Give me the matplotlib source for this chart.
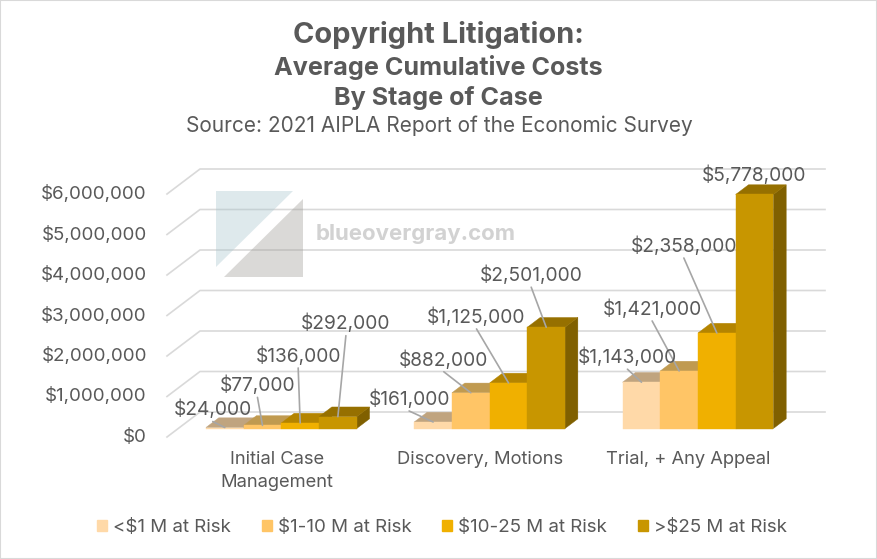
import matplotlib
matplotlib.use("Agg")
import matplotlib.pyplot as plt
from matplotlib.patches import Patch, Polygon
from matplotlib.transforms import ScaledTranslation

# --- DATA ---
categories = ["Initial Case\nManagement", "Discovery, Motions", "Trial, + Any Appeal"]
series_names = ["<$1 M at Risk", "$1-10 M at Risk", "$10-25 M at Risk", ">$25 M at Risk"]
under_1m = [24000, 161000, 1143000]
from_1_to_10m = [77000, 882000, 1421000]
from_10_to_25m = [136000, 1125000, 2358000]
over_25m = [292000, 2501000, 5778000]
y_ticks = [0, 1000000, 2000000, 3000000, 4000000, 5000000, 6000000]

# --- STYLE ---
W, H, DPI = 877, 559, 100
FONT = "Inter"
TEXT = "#595959"
GRID = "#d9d9d9"
LEADER = "#a6a6a6"
front_colors = ["#ffd9a8", "#ffc566", "#f0b000", "#c89600"]
top_colors = ["#c0a47f", "#c09a50", "#b48400", "#967000"]
side_colors = ["#a38b6b", "#a37e41", "#9a7100", "#806000"]

# axes area is the front edge of the floor, in pixels
LEFT, RIGHT, BOTTOM, TOP = 167, 792, 437, 194
PX_X = (RIGHT - LEFT) / 3
PX_Y = (BOTTOM - TOP) / 6000000
DEPTH_X = 33 / PX_X
DEPTH_Y = 25 / PX_Y
BAR_W = 37.7 / PX_X
BAR_START = 0.133
BAR_FRONT = 0.34   # share of floor depth in front of the bars
BAR_DEPTH = 0.388
LABEL_DROP = 3     # text sits a little low in its box
LEADER_GAP = 15

# label centre, pixels from the top-front-middle of each bar
label_offsets = [
    [(-12, 21), (-5, 43), (-2, 70), (8, 96)],
    [(-24, 26), (-27, 36), (-32, 69), (-15, 55)],
    [(-14, 28), (-27, 65), (-33, 90), (0, 22)],
]
no_leader = {(2, 3)}


def px_fig(x, y):
    return x / W, 1 - y / H


def money(v):
    return f"${v:,.0f}"


def draw_bar(ax, x, value, i):
    x0 = x + BAR_FRONT * DEPTH_X
    y0 = BAR_FRONT * DEPTH_Y
    dx = BAR_DEPTH * DEPTH_X
    dy = BAR_DEPTH * DEPTH_Y
    top = y0 + value
    side = Polygon([(x0 + BAR_W, y0), (x0 + BAR_W + dx, y0 + dy), (x0 + BAR_W + dx, top + dy), (x0 + BAR_W, top)],
                   fc=side_colors[i], ec=side_colors[i], lw=0.3, zorder=3, clip_on=False)
    lid = Polygon([(x0, top), (x0 + dx, top + dy), (x0 + BAR_W + dx, top + dy), (x0 + BAR_W, top)],
                  fc=top_colors[i], ec=top_colors[i], lw=0.3, zorder=3, clip_on=False)
    front = Polygon([(x0, y0), (x0, top), (x0 + BAR_W, top), (x0 + BAR_W, y0)],
                    fc=front_colors[i], ec=front_colors[i], lw=0.3, zorder=3, clip_on=False)
    for p in (side, lid, front):
        ax.add_patch(p)
    return x0 + BAR_W / 2, top


plt.rcParams["font.family"] = [FONT, "DejaVu Sans"]
fig = plt.figure(figsize=(W / DPI, H / DPI), dpi=DPI)
ax = fig.add_axes([LEFT / W, 1 - BOTTOM / H, (RIGHT - LEFT) / W, (BOTTOM - TOP) / H])
ax.set_xlim(0, 3)
ax.set_ylim(0, 6000000)
for s in ax.spines.values():
    s.set_visible(False)
ax.patch.set_visible(False)

# grid: back wall and left wall
for v in y_ticks:
    ax.plot([0, DEPTH_X, 3 + DEPTH_X], [v, v + DEPTH_Y, v + DEPTH_Y], color=GRID, lw=1.2, zorder=1, clip_on=False)

# watermark
fig.add_artist(Polygon([px_fig(216, 191), px_fig(293, 191), px_fig(216, 267)], transform=fig.transFigure,
                       fc="#a6c4cd", alpha=0.36, lw=0, zorder=2))
fig.add_artist(Polygon([px_fig(303, 199), px_fig(303, 277), px_fig(224, 277)], transform=fig.transFigure,
                       fc="#9a9792", alpha=0.36, lw=0, zorder=2))
fig.text(316 / W, 1 - 234 / H, "blueovergray.com", fontsize=16, fontweight="bold", color="#d2d2d2",
         va="center", ha="left", zorder=2)

# bars, left to right so the next front hides the previous side
series = [under_1m, from_1_to_10m, from_10_to_25m, over_25m]
for c in range(len(categories)):
    for i, values in enumerate(series):
        x = c + BAR_START + i * BAR_W
        mid, top = draw_bar(ax, x, values[c], i)
        ox, oy = label_offsets[c][i]
        if (c, i) not in no_leader:
            ax.annotate("", xy=(mid, top), xytext=(ox, oy - LEADER_GAP), textcoords="offset pixels", zorder=4,
                        arrowprops=dict(arrowstyle="-", color=LEADER, lw=1.2, shrinkA=0, shrinkB=0))
        ax.annotate(money(values[c]), xy=(mid, top), xytext=(ox, oy - LABEL_DROP), textcoords="offset pixels",
                    ha="center", va="center", fontsize=13.8, color=TEXT, zorder=5, annotation_clip=False)

# axes text
ax.set_yticks(y_ticks, [money(v) for v in y_ticks], fontsize=13.5, color=TEXT)
ax.set_xticks([0.528, 1.502, 2.5], categories, fontsize=13.2, color=TEXT, linespacing=1.5)
ax.tick_params(axis="both", length=0)
ax.tick_params(axis="y", pad=14.5)
ax.tick_params(axis="x", pad=10)
shift = ScaledTranslation(0, 2 / DPI, fig.dpi_scale_trans)
for lab in ax.get_yticklabels():
    lab.set_transform(lab.get_transform() + shift)

# titles
cx = 438 / W
fig.text(cx, 1 - 35 / H, "Copyright Litigation:", fontsize=20.9, fontweight="bold", color=TEXT, ha="center", va="center")
fig.text(cx, 1 - 68 / H, "Average Cumulative Costs", fontsize=18.1, fontweight="bold", color=TEXT, ha="center", va="center")
fig.text(cx, 1 - 98 / H, "By Stage of Case", fontsize=18.1, fontweight="bold", color=TEXT, ha="center", va="center")
fig.text(cx + 1 / W, 1 - 126 / H, "Source: 2021 AIPLA Report of the Economic Survey", fontsize=15, color=TEXT, ha="center", va="center")

# legend
handles = [Patch(fc=c, ec=c, label=n) for c, n in zip(front_colors, series_names)]
fig.legend(handles=handles, loc="center", bbox_to_anchor=(442 / W, 1 - 528 / H), ncol=4, frameon=False,
           fontsize=13.5, labelcolor=TEXT, handlelength=0.53, handleheight=0.53, handletextpad=0.3, columnspacing=1.66)

# chart border
fig.add_artist(plt.Rectangle((0, 0), 1, 1, transform=fig.transFigure, fc="none", ec="#d9d9d9", lw=1.5))

fig.savefig("out.png", dpi=DPI)
